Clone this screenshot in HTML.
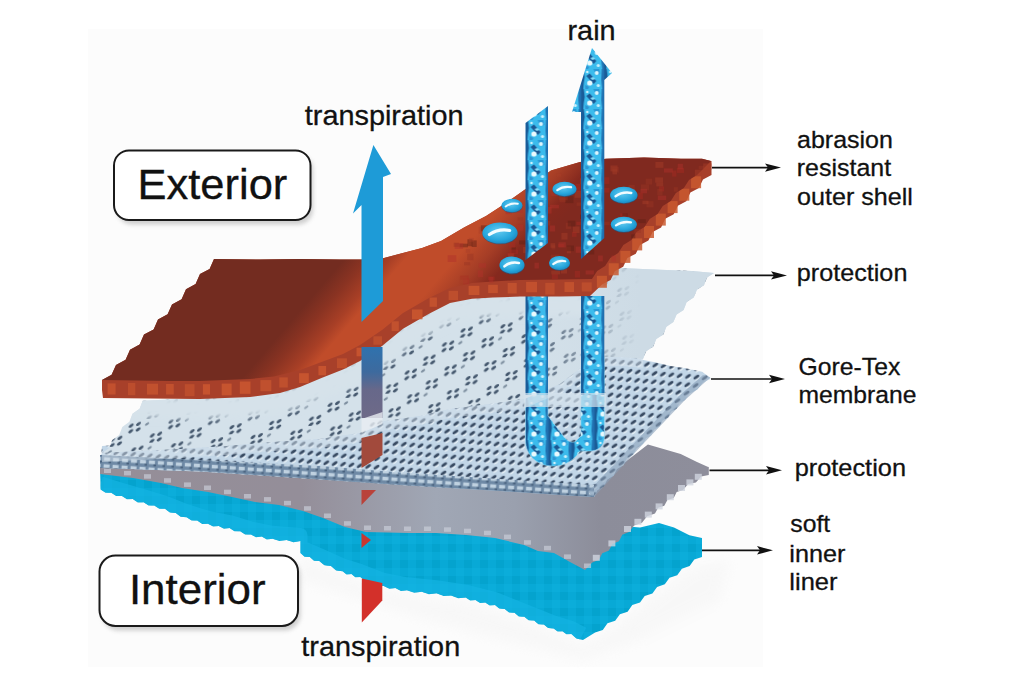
<!DOCTYPE html>
<html><head><meta charset="utf-8"><title>Gore-Tex fabric layers</title>
<style>
html,body{margin:0;padding:0;background:#fff;}
body{width:1024px;height:683px;overflow:hidden;}
svg{display:block;}
text{font-family:"Liberation Sans",sans-serif;fill:#111;stroke:#111;stroke-width:0.3px;}
</style></head><body>
<svg width="1024" height="683" viewBox="0 0 1024 683">
<defs>
  <filter id="fBlur2" x="-10%" y="-20%" width="120%" height="140%"><feGaussianBlur stdDeviation="2"/></filter>
  <filter id="fBlur3" x="-20%" y="-50%" width="140%" height="200%"><feGaussianBlur stdDeviation="3"/></filter>
  <filter id="fBlur" x="-20%" y="-20%" width="140%" height="140%"><feGaussianBlur stdDeviation="6"/></filter>
  <linearGradient id="gBrown" gradientUnits="userSpaceOnUse" x1="326.4" y1="279.9" x2="432.6" y2="371.1">
    <stop offset="0" stop-color="#732c20"/>
    <stop offset="0.12" stop-color="#8a3322"/>
    <stop offset="0.25" stop-color="#a83f26"/>
    <stop offset="0.33" stop-color="#c04c2a"/>
    <stop offset="0.60" stop-color="#c04c2a"/>
    <stop offset="0.76" stop-color="#a53d26"/>
    <stop offset="0.90" stop-color="#85291e"/>
    <stop offset="1" stop-color="#80291f"/>
  </linearGradient>
  <pattern id="pBrownTex" patternUnits="userSpaceOnUse" width="14" height="14">
    <rect x="1" y="2" width="6" height="5" fill="#5a1a10" opacity="0.07"/>
    <rect x="8" y="9" width="5" height="4" fill="#d06040" opacity="0.05"/>
  </pattern>
  <pattern id="pLight" patternUnits="userSpaceOnUse" width="40" height="24" patternTransform="rotate(-6)">
    <rect width="40" height="24" fill="#d4e1ea"/>
    <g fill="#45586e">
      <ellipse cx="6" cy="5" rx="3" ry="1.3" transform="rotate(-30 6 5)"/>
      <ellipse cx="13.5" cy="4" rx="3" ry="1.3" transform="rotate(-30 13.5 4)"/>
      <ellipse cx="5" cy="10.5" rx="3" ry="1.3" transform="rotate(-30 5 10.5)"/>
      <ellipse cx="12.5" cy="9.5" rx="3" ry="1.3" transform="rotate(-30 12.5 9.5)"/>
      <ellipse cx="26" cy="17" rx="3" ry="1.3" transform="rotate(-30 26 17)"/>
      <ellipse cx="33.5" cy="16" rx="3" ry="1.3" transform="rotate(-30 33.5 16)"/>
      <ellipse cx="25" cy="22.5" rx="3" ry="1.3" transform="rotate(-30 25 22.5)"/>
      <ellipse cx="32.5" cy="21.5" rx="3" ry="1.3" transform="rotate(-30 32.5 21.5)"/>
      <ellipse cx="22" cy="5" rx="2.6" ry="1.1" transform="rotate(-30 22 5)" opacity="0.6"/>
    </g>
  </pattern>
  <linearGradient id="gLightFade" gradientUnits="userSpaceOnUse" x1="520" y1="0" x2="640" y2="0">
    <stop offset="0" stop-color="#cddbe5" stop-opacity="0"/>
    <stop offset="1" stop-color="#cddbe5" stop-opacity="1"/>
  </linearGradient>
  <linearGradient id="gTrans" gradientUnits="userSpaceOnUse" x1="0" y1="347" x2="0" y2="418">
    <stop offset="0" stop-color="#2f72ae"/>
    <stop offset="0.35" stop-color="#3d6a9e"/>
    <stop offset="0.6" stop-color="#67688a"/>
    <stop offset="1" stop-color="#6e6a88"/>
  </linearGradient>
  <linearGradient id="gGrey" gradientUnits="userSpaceOnUse" x1="100" y1="0" x2="710" y2="0">
    <stop offset="0" stop-color="#958e98"/>
    <stop offset="0.33" stop-color="#948e99"/>
    <stop offset="0.55" stop-color="#a0a7b5"/>
    <stop offset="0.68" stop-color="#9aa0ae"/>
    <stop offset="0.82" stop-color="#8c8d9a"/>
    <stop offset="1" stop-color="#8e8e9b"/>
  </linearGradient>
  <pattern id="pMemb" patternUnits="userSpaceOnUse" width="8.4" height="8.4" patternTransform="rotate(5)">
    <rect width="8.4" height="8.4" fill="#c2d6e7"/>
    <ellipse cx="5.4" cy="6.0" rx="2.8" ry="0.9" transform="rotate(-40 5.4 6.0)" fill="#eef6fb"/>
    <ellipse cx="4.2" cy="4.2" rx="3.8" ry="2.0" transform="rotate(-40 4.2 4.2)" fill="#7990a9" opacity="0.5"/>
    <ellipse cx="4.2" cy="4.2" rx="3.1" ry="1.35" transform="rotate(-40 4.2 4.2)" fill="#384a61"/>
  </pattern>
  <pattern id="pMembBand" patternUnits="userSpaceOnUse" width="9" height="7" patternTransform="rotate(4)">
    <rect width="9" height="7" fill="#6e89a5"/>
    <rect x="0.8" y="0.8" width="6" height="3.6" fill="#bfd1e0"/>
    <rect x="5.5" y="4.6" width="2.6" height="1.8" fill="#465f7b"/>
  </pattern>
  <pattern id="pCyan" patternUnits="userSpaceOnUse" width="16" height="16">
    <rect width="16" height="16" fill="#08a9d6"/>
    <rect x="0" y="0" width="8" height="8" fill="#029ec8" opacity="0.6"/>
    <rect x="8" y="8" width="8" height="8" fill="#0eb2de" opacity="0.5"/>
  </pattern>
  <g id="rainTile">
    <rect width="23" height="20" fill="#3bbbec"/>
    <path d="M0,0 L2.5,0 L3.5,8 L2.5,14 L2,20 L0,20 Z" fill="#1a5c98"/>
    <path d="M20.5,0 L23,0 L23,20 L21,20 L20,11 Z" fill="#2070b0"/>
    <path d="M5,7 L8.5,4.5 L15,12 L12.5,15 Z" fill="#1b5893"/>
    <path d="M12,0 L18,0 L19,5 L15,6 Z" fill="#2a98d6"/>
    <path d="M4,16 L8,18 L7,20 L4,20 Z" fill="#2e96d4"/>
    <path d="M9,9 L12,8 L14,10 L11,11 Z" fill="#86dcf7"/>
    <circle cx="8.5" cy="14" r="2.6" fill="#e8f9fe"/>
    <circle cx="15.5" cy="4" r="2.0" fill="#dcf5fd"/>
    <circle cx="17" cy="16.5" r="1.6" fill="#cdf0fb"/>
    <circle cx="6" cy="3" r="1.3" fill="#cdf0fb"/>
  </g>
  <pattern id="pRainL" patternUnits="userSpaceOnUse" x="525.5" y="0" width="23" height="20"><use href="#rainTile"/></pattern>
  <pattern id="pRainR" patternUnits="userSpaceOnUse" x="581.3" y="9" width="23" height="20"><use href="#rainTile"/></pattern>
  <radialGradient id="gDrop" cx="0.45" cy="0.4" r="0.6">
    <stop offset="0" stop-color="#62caf0"/>
    <stop offset="0.7" stop-color="#27a7dd"/>
    <stop offset="1" stop-color="#1c8cc4"/>
  </radialGradient>
</defs>

<rect width="1024" height="683" fill="#fff"/>
<rect x="88" y="29" width="675" height="638" fill="#fcfcfc"/>
<path d="M300,556 L383,590 L465,601 L525,620 L583,645 L606,632 L690,568 L730,560 L720,600 L640,640 L583,660 L500,640 L400,612 L300,580 Z" fill="#eeeeee" opacity="0.3" filter="url(#fBlur)"/>
<polygon points="100.0,468.0 600.0,524.0 640.0,527.6 659.0,522.9 674.0,527.6 689.4,535.2 702.0,538.0 702.0,557.0 694.3,559.5 689.6,566.1 681.9,568.7 677.2,575.2 669.5,577.8 664.8,584.3 657.1,586.9 652.4,593.4 644.7,596.0 640.0,602.6 632.3,605.1 627.6,611.7 619.9,614.2 615.2,620.8 607.5,623.3 602.8,629.9 595.1,632.4 583.0,640.0 576.4,638.6 571.4,634.0 566.4,634.3 562.5,631.2 557.6,631.5 553.7,628.4 548.1,628.1 543.9,624.5 538.4,624.2 534.2,620.6 528.6,620.3 524.4,616.7 518.8,616.4 514.6,612.8 509.0,612.5 504.8,608.9 499.2,608.6 495.0,605.0 489.7,605.5 485.3,602.5 480.0,603.0 475.5,600.1 470.2,600.6 465.8,597.6 458.2,598.3 451.1,595.4 443.6,596.1 436.5,593.2 428.9,594.3 421.8,591.8 414.2,592.8 407.0,590.3 400.9,591.0 395.4,588.1 389.3,588.8 383.8,586.0 377.3,585.4 372.1,581.5 365.5,580.9 360.3,577.0 355.3,577.3 351.5,574.1 346.5,574.4 342.7,571.3 336.1,570.4 331.0,566.1 324.4,565.2 319.3,561.0 313.9,560.7 309.9,557.0 304.5,556.7 300.5,553.0 300.5,541.0 293.4,542.2 286.6,539.9 279.4,541.1 272.6,538.8 266.8,539.5 261.8,536.6 256.0,537.3 251.0,534.5 245.1,534.6 240.3,531.2 234.4,531.3 229.6,528.0 223.9,528.7 218.8,525.9 213.1,526.6 208.0,523.8 202.1,523.9 197.3,520.5 191.5,520.6 186.7,517.3 180.6,516.8 175.8,513.0 169.8,512.5 165.0,508.7 159.2,508.8 154.3,505.5 148.5,505.6 143.7,502.3 137.8,502.5 132.8,499.1 126.9,499.3 122.0,496.0 116.1,496.1 111.3,492.7 105.5,492.8 100.7,489.4" fill="url(#pCyan)"/>
<clipPath id="cCyan"><polygon points="100.0,468.0 600.0,524.0 640.0,527.6 659.0,522.9 674.0,527.6 689.4,535.2 702.0,538.0 702.0,557.0 694.3,559.5 689.6,566.1 681.9,568.7 677.2,575.2 669.5,577.8 664.8,584.3 657.1,586.9 652.4,593.4 644.7,596.0 640.0,602.6 632.3,605.1 627.6,611.7 619.9,614.2 615.2,620.8 607.5,623.3 602.8,629.9 595.1,632.4 583.0,640.0 576.4,638.6 571.4,634.0 566.4,634.3 562.5,631.2 557.6,631.5 553.7,628.4 548.1,628.1 543.9,624.5 538.4,624.2 534.2,620.6 528.6,620.3 524.4,616.7 518.8,616.4 514.6,612.8 509.0,612.5 504.8,608.9 499.2,608.6 495.0,605.0 489.7,605.5 485.3,602.5 480.0,603.0 475.5,600.1 470.2,600.6 465.8,597.6 458.2,598.3 451.1,595.4 443.6,596.1 436.5,593.2 428.9,594.3 421.8,591.8 414.2,592.8 407.0,590.3 400.9,591.0 395.4,588.1 389.3,588.8 383.8,586.0 377.3,585.4 372.1,581.5 365.5,580.9 360.3,577.0 355.3,577.3 351.5,574.1 346.5,574.4 342.7,571.3 336.1,570.4 331.0,566.1 324.4,565.2 319.3,561.0 313.9,560.7 309.9,557.0 304.5,556.7 300.5,553.0 300.5,541.0 293.4,542.2 286.6,539.9 279.4,541.1 272.6,538.8 266.8,539.5 261.8,536.6 256.0,537.3 251.0,534.5 245.1,534.6 240.3,531.2 234.4,531.3 229.6,528.0 223.9,528.7 218.8,525.9 213.1,526.6 208.0,523.8 202.1,523.9 197.3,520.5 191.5,520.6 186.7,517.3 180.6,516.8 175.8,513.0 169.8,512.5 165.0,508.7 159.2,508.8 154.3,505.5 148.5,505.6 143.7,502.3 137.8,502.5 132.8,499.1 126.9,499.3 122.0,496.0 116.1,496.1 111.3,492.7 105.5,492.8 100.7,489.4"/></clipPath>
<g clip-path="url(#cCyan)"><path d="M583.0,634.0 L571.4,628.0 L553.7,622.4 L524.4,610.7 L495.0,599.0 L465.8,591.6 L436.5,587.2 L407.0,584.3 L383.8,580.0 L360.3,571.0 L342.7,565.3 L319.3,555.0 L300.5,547.0 L300.5,535.0 L272.6,532.8 L251.0,528.5 L229.6,522.0 L208.0,517.8 L186.7,511.3 L165.0,502.7 L143.7,496.3 L122.0,490.0 L100.7,483.4" stroke="#14b3e3" stroke-width="14" fill="none" opacity="0.7" stroke-linejoin="round"/></g>
<polygon points="100.0,462.0 200.0,465.0 310.0,470.5 400.0,477.0 500.0,484.0 589.0,491.0 620.0,466.0 647.9,444.6 680.7,454.0 697.0,462.0 707.6,466.8 708.8,467.0 708.8,475.0 701.1,476.6 695.9,482.5 688.2,484.1 683.0,490.0 676.7,492.0 673.7,497.9 667.4,499.9 664.3,505.7 658.1,507.8 655.0,513.6 647.1,516.2 642.0,522.8 634.1,525.4 629.0,532.0 622.3,534.8 619.0,541.2 612.3,544.0 609.0,550.5 602.3,553.3 599.0,559.8 592.3,562.5 585.0,570.0 570.0,562.0 554.0,553.0 538.0,551.0 524.0,545.0 495.0,538.0 486.0,537.0 466.0,535.0 436.0,533.0 409.0,533.0 366.0,532.0 345.0,527.0 323.0,518.0 303.0,511.0 279.0,505.0 255.0,502.0 232.0,497.0 208.0,492.0 182.0,488.0 161.0,483.0 133.0,478.0 100.0,474.0" fill="url(#gGrey)"/>
<rect x="104" y="468.5" width="7" height="4.5" fill="#cbd0da" opacity="0.65"/>
<rect x="124" y="470.9" width="7" height="4.5" fill="#cbd0da" opacity="0.65"/>
<rect x="144" y="474.2" width="7" height="4.5" fill="#cbd0da" opacity="0.65"/>
<rect x="164" y="478.2" width="7" height="4.5" fill="#cbd0da" opacity="0.65"/>
<rect x="184" y="482.4" width="7" height="4.5" fill="#cbd0da" opacity="0.65"/>
<rect x="204" y="485.5" width="7" height="4.5" fill="#cbd0da" opacity="0.65"/>
<rect x="224" y="489.7" width="7" height="4.5" fill="#cbd0da" opacity="0.65"/>
<rect x="244" y="494.0" width="7" height="4.5" fill="#cbd0da" opacity="0.65"/>
<rect x="264" y="497.1" width="7" height="4.5" fill="#cbd0da" opacity="0.65"/>
<rect x="284" y="500.8" width="7" height="4.5" fill="#cbd0da" opacity="0.65"/>
<rect x="304" y="506.2" width="7" height="4.5" fill="#cbd0da" opacity="0.65"/>
<rect x="324" y="513.5" width="7" height="4.5" fill="#cbd0da" opacity="0.65"/>
<rect x="344" y="521.2" width="7" height="4.5" fill="#cbd0da" opacity="0.65"/>
<rect x="364" y="525.5" width="7" height="4.5" fill="#cbd0da" opacity="0.65"/>
<rect x="384" y="526.0" width="7" height="4.5" fill="#cbd0da" opacity="0.65"/>
<rect x="404" y="526.5" width="7" height="4.5" fill="#cbd0da" opacity="0.65"/>
<rect x="424" y="526.5" width="7" height="4.5" fill="#cbd0da" opacity="0.65"/>
<rect x="444" y="527.3" width="7" height="4.5" fill="#cbd0da" opacity="0.65"/>
<rect x="464" y="528.7" width="7" height="4.5" fill="#cbd0da" opacity="0.65"/>
<rect x="484" y="530.7" width="7" height="4.5" fill="#cbd0da" opacity="0.65"/>
<rect x="504" y="534.6" width="7" height="4.5" fill="#cbd0da" opacity="0.65"/>
<rect x="524" y="540.2" width="7" height="4.5" fill="#cbd0da" opacity="0.65"/>
<rect x="544" y="545.8" width="7" height="4.5" fill="#cbd0da" opacity="0.65"/>
<rect x="564" y="554.4" width="7" height="4.5" fill="#cbd0da" opacity="0.65"/>
<rect x="584" y="563.5" width="7" height="4.5" fill="#cbd0da" opacity="0.65"/>
<rect x="694.8" y="473.8" width="7" height="6" fill="#cfd5de" opacity="0.8"/>
<rect x="686.4" y="479.4" width="7" height="6" fill="#cfd5de" opacity="0.8"/>
<rect x="678.0" y="485.0" width="7" height="6" fill="#cfd5de" opacity="0.8"/>
<rect x="666.8" y="494.2" width="7" height="6" fill="#cfd5de" opacity="0.8"/>
<rect x="655.6" y="503.4" width="7" height="6" fill="#cfd5de" opacity="0.8"/>
<rect x="644.8" y="511.6" width="7" height="6" fill="#cfd5de" opacity="0.8"/>
<rect x="634.4" y="518.8" width="7" height="6" fill="#cfd5de" opacity="0.8"/>
<rect x="624.0" y="526.0" width="7" height="6" fill="#cfd5de" opacity="0.8"/>
<rect x="608.4" y="540.4" width="7" height="6" fill="#cfd5de" opacity="0.8"/>
<rect x="592.8" y="554.8" width="7" height="6" fill="#cfd5de" opacity="0.8"/>
<polygon points="102.0,446.0 227.0,438.0 320.0,430.0 385.0,411.0 450.0,398.0 525.0,388.0 560.0,372.0 601.0,350.0 626.0,354.0 643.4,360.0 655.0,362.3 670.4,365.9 685.6,368.2 702.0,371.7 710.2,377.6 710.2,379.0 702.6,382.7 697.6,389.5 690.0,393.2 685.0,400.0 679.4,403.0 676.6,408.8 671.0,411.8 668.2,417.6 662.6,420.6 659.8,426.4 654.2,429.4 651.4,435.2 645.8,438.2 643.0,444.0 636.6,447.9 633.2,454.6 626.8,458.5 623.4,465.2 617.0,469.1 613.6,475.8 607.2,479.7 603.8,486.4 597.4,490.3 594.0,497.0 560.0,495.0 500.0,491.0 450.0,488.0 400.0,485.0 320.0,479.5 200.0,471.5 100.0,468.0" fill="url(#pMemb)"/>
<polygon points="594.0,485.0 500.0,479.0 400.0,472.5 320.0,466.0 200.0,460.0 100.0,455.0 100.0,468.0 200.0,471.5 320.0,479.5 400.0,485.0 450.0,488.0 500.0,491.0 560.0,495.0 594.0,497.0" fill="url(#pMembBand)"/>
<polygon points="710.2,377.6 685.0,400.0 643.0,444.0 594.0,497.0 588.0,492.0 637.0,440.0 679.0,396.0 703.0,375.0" fill="#8aa2ba" opacity="0.6"/>
<path d="M525.5,296 L548,296 L548,416 L564,437 C567,441 572,444 576,441 L581,436 L581,296 L604.3,296 L604.3,437 C604.3,446 598,451 590,451 L580,451 C575,459 566,466 553,466 C537,466 525.5,455 525.5,440 Z" fill="url(#pRainL)"/>
<path d="M525.5,296 L548,296 L548,416 L564,437 C567,441 572,444 576,441 L581,436 L581,296 L604.3,296 L604.3,437 C604.3,446 598,451 590,451 L580,451 C575,459 566,466 553,466 C537,466 525.5,455 525.5,440 Z" fill="none" stroke="#8fd8f4" stroke-width="1" opacity="0.6"/>
<polygon points="142.7,400.7 200.0,398.0 300.0,385.0 360.0,355.0 400.0,325.0 450.0,300.0 520.0,290.0 590.0,285.0 620.0,268.0 660.0,269.8 692.0,270.9 714.0,273.0 707.0,277.6 703.9,285.3 696.9,289.8 693.7,297.6 686.7,302.1 683.6,309.9 676.6,314.4 673.4,322.1 666.4,326.7 663.3,334.4 656.3,339.0 653.1,346.7 646.1,351.3 643.0,359.0 622.0,357.0 601.0,357.0 581.0,368.0 560.0,384.0 525.0,399.0 490.0,404.0 450.0,409.0 420.0,416.0 385.0,421.0 360.0,433.0 320.0,439.0 274.0,442.0 227.0,446.0 180.0,449.0 140.0,451.0 102.0,453.0 109.1,448.0 112.2,439.9 119.2,434.9 122.3,426.9 129.4,421.8 132.5,413.8 139.6,408.8" fill="url(#pLight)"/>
<polygon points="142.7,400.7 200.0,398.0 300.0,385.0 360.0,355.0 400.0,325.0 450.0,300.0 520.0,290.0 590.0,285.0 620.0,268.0 660.0,269.8 692.0,270.9 714.0,273.0 707.0,277.6 703.9,285.3 696.9,289.8 693.7,297.6 686.7,302.1 683.6,309.9 676.6,314.4 673.4,322.1 666.4,326.7 663.3,334.4 656.3,339.0 653.1,346.7 646.1,351.3 643.0,359.0 622.0,357.0 601.0,357.0 581.0,368.0 560.0,384.0 525.0,399.0 490.0,404.0 450.0,409.0 420.0,416.0 385.0,421.0 360.0,433.0 320.0,439.0 274.0,442.0 227.0,446.0 180.0,449.0 140.0,451.0 102.0,453.0 109.1,448.0 112.2,439.9 119.2,434.9 122.3,426.9 129.4,421.8 132.5,413.8 139.6,408.8" fill="url(#gLightFade)"/>
<polygon points="643.0,359.0 622.0,357.0 601.0,357.0 581.0,368.0 560.0,384.0 525.0,399.0 490.0,404.0 450.0,409.0 420.0,416.0 385.0,421.0 360.0,433.0 320.0,439.0 274.0,442.0 227.0,446.0 180.0,449.0 140.0,451.0 102.0,453.0 102.0,462.0 140.0,460.0 180.0,458.0 227.0,455.0 274.0,451.0 320.0,448.0 360.0,442.0 385.0,430.0 420.0,425.0 450.0,418.0 490.0,413.0 525.0,408.0 560.0,393.0 581.0,377.0 601.0,366.0 622.0,366.0 643.0,368.0" fill="#d5e2eb" opacity="0.5"/>
<clipPath id="cLight"><polygon points="142.7,400.7 200.0,398.0 300.0,385.0 360.0,355.0 400.0,325.0 450.0,300.0 520.0,290.0 590.0,285.0 620.0,268.0 660.0,269.8 692.0,270.9 714.0,273.0 707.0,277.6 703.9,285.3 696.9,289.8 693.7,297.6 686.7,302.1 683.6,309.9 676.6,314.4 673.4,322.1 666.4,326.7 663.3,334.4 656.3,339.0 653.1,346.7 646.1,351.3 643.0,359.0 622.0,357.0 601.0,357.0 581.0,368.0 560.0,384.0 525.0,399.0 490.0,404.0 450.0,409.0 420.0,416.0 385.0,421.0 360.0,433.0 320.0,439.0 274.0,442.0 227.0,446.0 180.0,449.0 140.0,451.0 102.0,453.0 109.1,448.0 112.2,439.9 119.2,434.9 122.3,426.9 129.4,421.8 132.5,413.8 139.6,408.8"/></clipPath>
<g clip-path="url(#cLight)"><path d="M590,305 L560,305.5 L520,305.5 L493,306.6 L472,307.7 L450,312 L429,322.7 L403,337.7 L382,355 L360,370 L343,378.6 L321.5,387 L300,396 L280,402 L250,406 L200,408 L150,407.5 L103,407" stroke="#d6e2ea" stroke-width="22" fill="none" stroke-linejoin="round" filter="url(#fBlur3)"/></g>
<path d="M525.5,296 L548,296 L548,395 L525.5,395 Z" fill="url(#pRainL)"/>
<path d="M581,296 L604.3,296 L604.3,395 L581,395 Z" fill="url(#pRainR)"/>
<rect x="524" y="393" width="82" height="14" fill="#d6e3ec" opacity="0.7"/>
<polygon points="214.0,259.0 260.0,259.5 300.0,259.0 340.0,259.5 362.0,259.5 384.0,258.0 399.0,254.0 422.0,248.0 441.0,241.0 464.0,227.5 486.0,216.0 506.0,203.0 525.0,189.5 551.0,170.5 580.0,162.0 606.0,158.7 644.0,157.6 681.0,158.7 702.0,158.7 711.0,161.0 711.5,161.0 711.5,175.0 703.0,179.5 698.9,188.1 690.4,192.6 686.3,201.2 677.8,205.7 673.7,214.3 665.2,218.8 661.1,227.4 652.6,231.9 648.4,240.6 640.0,245.0 635.8,253.7 627.4,258.1 623.2,266.8 614.8,271.3 610.6,279.9 602.1,284.4 590.0,296.0 560.0,296.5 520.0,296.5 493.0,297.6 472.0,298.7 450.0,303.0 429.0,313.7 403.0,328.7 382.0,346.0 360.0,361.0 343.0,369.6 321.5,378.0 300.0,387.0 280.0,393.0 250.0,397.0 200.0,399.0 150.0,398.5 103.0,398.0 102.0,390.0 102.0,380.0 111.6,374.8 116.0,364.9 125.6,359.7 130.0,349.8 139.6,344.6 144.0,334.6 153.6,329.4 158.0,319.5 167.6,314.3 172.0,304.4 181.6,299.2 186.0,289.2 195.6,284.1 200.0,274.1 209.6,268.9" fill="#a8402a"/>
<rect x="107.6" y="383.4" width="8.0" height="11.1" fill="#cc5830" opacity="0.71"/>
<rect x="128.0" y="383.0" width="7.3" height="12.2" fill="#cc5830" opacity="0.55"/>
<rect x="147.0" y="383.7" width="11.0" height="10.9" fill="#cc5830" opacity="0.69"/>
<rect x="166.1" y="384.0" width="7.6" height="10.5" fill="#cc5830" opacity="0.74"/>
<rect x="184.8" y="384.2" width="9.7" height="12.0" fill="#cc5830" opacity="0.57"/>
<rect x="202.9" y="384.2" width="7.1" height="10.4" fill="#cc5830" opacity="0.81"/>
<rect x="221.7" y="383.6" width="9.9" height="11.7" fill="#cc5830" opacity="0.83"/>
<rect x="239.8" y="381.5" width="10.7" height="12.3" fill="#cc5830" opacity="0.81"/>
<rect x="260.4" y="380.1" width="10.9" height="11.1" fill="#cc5830" opacity="0.68"/>
<rect x="279.3" y="377.4" width="8.5" height="10.1" fill="#cc5830" opacity="0.66"/>
<rect x="299.1" y="373.2" width="9.7" height="9.9" fill="#cc5830" opacity="0.83"/>
<rect x="318.4" y="366.0" width="7.7" height="9.3" fill="#cc5830" opacity="0.81"/>
<rect x="337.0" y="358.3" width="9.9" height="9.8" fill="#cc5830" opacity="0.61"/>
<rect x="356.5" y="347.7" width="7.3" height="8.6" fill="#cc5830" opacity="0.81"/>
<rect x="373.4" y="336.3" width="8.6" height="8.4" fill="#cc5830" opacity="0.60"/>
<rect x="391.6" y="321.3" width="7.2" height="9.8" fill="#cc5830" opacity="0.73"/>
<rect x="412.0" y="309.5" width="10.5" height="9.8" fill="#cc5830" opacity="0.84"/>
<rect x="429.6" y="297.5" width="7.3" height="9.3" fill="#cc5830" opacity="0.73"/>
<rect x="448.6" y="290.8" width="9.4" height="9.2" fill="#cc5830" opacity="0.60"/>
<rect x="468.6" y="285.8" width="10.8" height="9.2" fill="#cc5830" opacity="0.82"/>
<rect x="488.2" y="284.8" width="9.6" height="8.3" fill="#cc5830" opacity="0.73"/>
<rect x="507.7" y="283.0" width="9.0" height="10.5" fill="#cc5830" opacity="0.68"/>
<rect x="526.1" y="281.9" width="10.9" height="10.4" fill="#cc5830" opacity="0.71"/>
<rect x="545.3" y="282.9" width="9.3" height="11.7" fill="#cc5830" opacity="0.56"/>
<rect x="564.5" y="282.1" width="9.5" height="9.9" fill="#cc5830" opacity="0.69"/>
<rect x="581.7" y="282.4" width="10.0" height="9.1" fill="#cc5830" opacity="0.56"/>
<rect x="691.1" y="176.2" width="10" height="12" fill="#c9592f" opacity="0.85"/>
<rect x="679.3" y="188.7" width="10" height="12" fill="#c9592f" opacity="0.85"/>
<rect x="667.6" y="201.1" width="10" height="12" fill="#c9592f" opacity="0.85"/>
<rect x="655.8" y="213.6" width="10" height="12" fill="#c9592f" opacity="0.85"/>
<rect x="644.0" y="226.0" width="10" height="12" fill="#c9592f" opacity="0.85"/>
<rect x="632.2" y="238.4" width="10" height="12" fill="#c9592f" opacity="0.85"/>
<rect x="620.4" y="250.9" width="10" height="12" fill="#c9592f" opacity="0.85"/>
<rect x="608.7" y="263.3" width="10" height="12" fill="#c9592f" opacity="0.85"/>
<rect x="596.9" y="275.8" width="10" height="12" fill="#c9592f" opacity="0.85"/>
<polygon points="214.0,259.0 260.0,259.5 300.0,259.0 340.0,259.5 362.0,259.5 384.0,258.0 399.0,254.0 422.0,248.0 441.0,241.0 464.0,227.5 486.0,216.0 506.0,203.0 525.0,189.5 551.0,170.5 580.0,162.0 606.0,158.7 644.0,157.6 681.0,158.7 702.0,158.7 711.0,161.0 711.0,161.0 697.0,175.0 689.0,180.1 683.9,188.0 675.9,193.1 670.8,201.0 662.8,206.1 657.6,214.0 649.7,219.1 644.5,227.0 636.5,232.1 631.4,240.0 623.4,245.1 618.2,253.0 610.3,258.1 605.1,266.0 597.2,271.1 592.0,279.0 560.0,279.5 520.0,280.0 493.0,281.5 472.0,283.0 450.0,288.0 429.0,298.0 403.0,313.0 382.0,330.0 360.0,345.0 343.0,354.0 321.5,362.0 300.0,370.0 274.0,376.5 250.0,379.0 200.0,381.0 169.0,381.0 102.0,380.0 102.0,380.0 111.6,374.8 116.0,364.9 125.6,359.7 130.0,349.8 139.6,344.6 144.0,334.6 153.6,329.4 158.0,319.5 167.6,314.3 172.0,304.4 181.6,299.2 186.0,289.2 195.6,284.1 200.0,274.1 209.6,268.9" fill="url(#gBrown)"/>
<rect x="612.5" y="169.1" width="4.5" height="5.3" fill="#a83d28" opacity="0.45"/>
<rect x="503.8" y="228.9" width="8.1" height="3.5" fill="#5e1e14" opacity="0.45"/>
<rect x="499.2" y="238.4" width="6.9" height="4.6" fill="#5e1e14" opacity="0.45"/>
<rect x="698.7" y="165.8" width="5.4" height="3.6" fill="#9a3524" opacity="0.45"/>
<rect x="656.3" y="182.6" width="6.9" height="3.8" fill="#a83d28" opacity="0.45"/>
<rect x="465.8" y="249.0" width="4.3" height="3.8" fill="#a83d28" opacity="0.45"/>
<rect x="620.3" y="213.4" width="6.3" height="6.7" fill="#a82a22" opacity="0.45"/>
<rect x="535.8" y="191.1" width="7.5" height="4.0" fill="#9a3524" opacity="0.45"/>
<rect x="592.2" y="225.6" width="7.6" height="4.2" fill="#a82a22" opacity="0.45"/>
<rect x="550.8" y="254.6" width="8.7" height="4.7" fill="#9a3524" opacity="0.45"/>
<rect x="694.9" y="169.7" width="6.9" height="6.5" fill="#a83d28" opacity="0.45"/>
<rect x="523.1" y="246.9" width="6.5" height="6.2" fill="#a83d28" opacity="0.45"/>
<rect x="511.5" y="247.1" width="4.3" height="5.8" fill="#5e1e14" opacity="0.45"/>
<rect x="657.8" y="195.6" width="8.4" height="4.4" fill="#b0302a" opacity="0.45"/>
<rect x="601.9" y="221.7" width="7.8" height="3.5" fill="#9a3524" opacity="0.45"/>
<rect x="505.6" y="208.9" width="4.4" height="4.8" fill="#b0302a" opacity="0.45"/>
<rect x="585.6" y="270.4" width="8.3" height="4.1" fill="#b0302a" opacity="0.45"/>
<rect x="550.1" y="204.8" width="8.8" height="3.6" fill="#b0302a" opacity="0.45"/>
<rect x="501.8" y="220.6" width="4.9" height="4.1" fill="#a83d28" opacity="0.45"/>
<rect x="478.6" y="226.8" width="6.8" height="6.8" fill="#a83d28" opacity="0.45"/>
<rect x="623.0" y="224.4" width="7.3" height="6.0" fill="#a83d28" opacity="0.45"/>
<rect x="561.0" y="268.9" width="6.0" height="4.6" fill="#a83d28" opacity="0.45"/>
<rect x="467.4" y="239.3" width="5.0" height="6.9" fill="#5e1e14" opacity="0.45"/>
<rect x="556.8" y="173.7" width="4.3" height="3.0" fill="#a83d28" opacity="0.45"/>
<rect x="532.1" y="205.5" width="4.6" height="5.0" fill="#5e1e14" opacity="0.45"/>
<rect x="566.8" y="246.5" width="4.1" height="6.8" fill="#a83d28" opacity="0.45"/>
<rect x="580.0" y="178.3" width="8.6" height="6.0" fill="#a83d28" opacity="0.45"/>
<rect x="519.0" y="240.4" width="7.5" height="4.0" fill="#5e1e14" opacity="0.45"/>
<rect x="646.4" y="201.2" width="7.1" height="6.2" fill="#9a3524" opacity="0.45"/>
<rect x="641.0" y="184.4" width="8.1" height="6.0" fill="#9a3524" opacity="0.45"/>
<rect x="500.1" y="224.7" width="7.7" height="7.0" fill="#a82a22" opacity="0.45"/>
<rect x="491.3" y="235.6" width="6.2" height="6.7" fill="#a82a22" opacity="0.45"/>
<rect x="536.6" y="187.6" width="6.4" height="4.4" fill="#9a3524" opacity="0.45"/>
<rect x="628.5" y="184.9" width="6.2" height="5.5" fill="#9a3524" opacity="0.45"/>
<rect x="463.0" y="278.3" width="6.3" height="6.0" fill="#b0302a" opacity="0.45"/>
<rect x="703.2" y="163.4" width="8.5" height="6.2" fill="#a83d28" opacity="0.45"/>
<rect x="478.7" y="263.3" width="7.3" height="4.4" fill="#b0302a" opacity="0.45"/>
<rect x="585.4" y="176.4" width="8.0" height="5.9" fill="#5e1e14" opacity="0.45"/>
<rect x="467.2" y="253.7" width="6.2" height="6.5" fill="#9a3524" opacity="0.45"/>
<rect x="658.9" y="186.4" width="5.1" height="5.0" fill="#a82a22" opacity="0.45"/>
<rect x="642.4" y="200.7" width="6.1" height="3.5" fill="#a83d28" opacity="0.45"/>
<rect x="561.4" y="232.9" width="6.1" height="6.7" fill="#a83d28" opacity="0.45"/>
<rect x="572.9" y="226.5" width="6.6" height="6.5" fill="#a83d28" opacity="0.45"/>
<rect x="645.7" y="178.7" width="6.4" height="5.9" fill="#9a3524" opacity="0.45"/>
<rect x="587.5" y="200.7" width="6.7" height="4.9" fill="#a83d28" opacity="0.45"/>
<rect x="676.9" y="167.9" width="7.1" height="5.0" fill="#a82a22" opacity="0.45"/>
<rect x="575.7" y="246.6" width="6.5" height="6.2" fill="#b0302a" opacity="0.45"/>
<rect x="574.6" y="191.0" width="8.4" height="6.8" fill="#a83d28" opacity="0.45"/>
<rect x="508.8" y="229.9" width="8.2" height="3.5" fill="#9a3524" opacity="0.45"/>
<rect x="459.4" y="243.7" width="8.5" height="3.6" fill="#5e1e14" opacity="0.45"/>
<rect x="477.9" y="270.4" width="5.1" height="6.8" fill="#b0302a" opacity="0.45"/>
<rect x="545.5" y="220.9" width="4.8" height="4.7" fill="#9a3524" opacity="0.45"/>
<rect x="576.6" y="202.4" width="5.8" height="3.4" fill="#9a3524" opacity="0.45"/>
<rect x="537.0" y="202.2" width="6.2" height="3.1" fill="#b0302a" opacity="0.45"/>
<rect x="527.8" y="238.0" width="8.8" height="3.5" fill="#a83d28" opacity="0.45"/>
<rect x="672.2" y="170.5" width="4.2" height="6.1" fill="#a82a22" opacity="0.45"/>
<rect x="551.9" y="273.9" width="6.0" height="5.1" fill="#a82a22" opacity="0.45"/>
<rect x="576.4" y="221.8" width="4.4" height="3.2" fill="#a82a22" opacity="0.45"/>
<rect x="622.4" y="213.2" width="5.3" height="3.1" fill="#5e1e14" opacity="0.45"/>
<rect x="601.2" y="187.8" width="8.3" height="4.8" fill="#a82a22" opacity="0.45"/>
<rect x="529.9" y="229.1" width="7.1" height="3.2" fill="#a82a22" opacity="0.45"/>
<rect x="488.0" y="276.5" width="6.7" height="3.8" fill="#a82a22" opacity="0.45"/>
<rect x="558.1" y="244.0" width="5.7" height="3.1" fill="#a82a22" opacity="0.45"/>
<rect x="634.3" y="228.9" width="6.6" height="4.0" fill="#9a3524" opacity="0.45"/>
<rect x="558.5" y="242.3" width="7.3" height="5.2" fill="#b0302a" opacity="0.45"/>
<rect x="454.7" y="243.2" width="8.4" height="5.7" fill="#b0302a" opacity="0.45"/>
<rect x="517.7" y="217.4" width="5.3" height="3.0" fill="#9a3524" opacity="0.45"/>
<rect x="536.5" y="201.1" width="5.6" height="3.1" fill="#a83d28" opacity="0.45"/>
<rect x="673.8" y="187.2" width="4.0" height="4.5" fill="#9a3524" opacity="0.45"/>
<rect x="565.8" y="222.8" width="5.2" height="6.1" fill="#9a3524" opacity="0.45"/>
<rect x="464.1" y="262.1" width="6.0" height="3.2" fill="#9a3524" opacity="0.45"/>
<rect x="501.7" y="233.2" width="8.3" height="3.6" fill="#a83d28" opacity="0.45"/>
<rect x="598.1" y="255.5" width="4.7" height="5.9" fill="#b0302a" opacity="0.45"/>
<rect x="610.5" y="165.5" width="7.1" height="5.9" fill="#a83d28" opacity="0.45"/>
<rect x="655.2" y="177.4" width="7.8" height="5.3" fill="#a83d28" opacity="0.45"/>
<rect x="655.4" y="162.0" width="8.0" height="5.8" fill="#a83d28" opacity="0.45"/>
<rect x="539.8" y="216.4" width="7.1" height="5.5" fill="#5e1e14" opacity="0.45"/>
<rect x="620.4" y="221.2" width="6.3" height="3.3" fill="#5e1e14" opacity="0.45"/>
<rect x="637.6" y="219.2" width="8.2" height="3.9" fill="#5e1e14" opacity="0.45"/>
<rect x="640.5" y="188.8" width="6.5" height="4.5" fill="#b0302a" opacity="0.45"/>
<rect x="566.9" y="245.5" width="7.1" height="5.6" fill="#5e1e14" opacity="0.45"/>
<rect x="507.3" y="252.9" width="7.1" height="3.5" fill="#a82a22" opacity="0.45"/>
<rect x="567.8" y="220.7" width="7.5" height="5.7" fill="#5e1e14" opacity="0.45"/>
<rect x="517.1" y="224.6" width="6.3" height="6.1" fill="#b0302a" opacity="0.45"/>
<rect x="565.3" y="196.2" width="8.1" height="6.9" fill="#5e1e14" opacity="0.45"/>
<rect x="559.1" y="193.6" width="8.6" height="6.7" fill="#9a3524" opacity="0.45"/>
<rect x="638.1" y="192.7" width="4.7" height="6.3" fill="#a82a22" opacity="0.45"/>
<rect x="574.8" y="270.9" width="5.2" height="6.6" fill="#a82a22" opacity="0.45"/>
<rect x="559.5" y="197.7" width="6.1" height="4.5" fill="#9a3524" opacity="0.45"/>
<rect x="526.0" y="202.3" width="4.6" height="6.7" fill="#b0302a" opacity="0.45"/>
<rect x="516.8" y="206.5" width="6.0" height="6.5" fill="#b0302a" opacity="0.45"/>
<rect x="460.2" y="275.7" width="8.3" height="4.1" fill="#a82a22" opacity="0.45"/>
<rect x="453.7" y="242.7" width="5.2" height="4.1" fill="#9a3524" opacity="0.45"/>
<rect x="575.4" y="183.7" width="7.9" height="4.7" fill="#a82a22" opacity="0.45"/>
<rect x="447.7" y="255.2" width="8.6" height="6.8" fill="#b0302a" opacity="0.45"/>
<rect x="585.5" y="249.9" width="8.7" height="4.6" fill="#5e1e14" opacity="0.45"/>
<rect x="603.0" y="177.3" width="6.4" height="6.6" fill="#a82a22" opacity="0.45"/>
<rect x="585.8" y="181.3" width="5.7" height="4.2" fill="#b0302a" opacity="0.45"/>
<rect x="508.9" y="242.0" width="6.4" height="5.7" fill="#a82a22" opacity="0.45"/>
<rect x="471.7" y="240.4" width="5.0" height="6.6" fill="#5e1e14" opacity="0.45"/>
<rect x="571.7" y="187.5" width="9.0" height="4.8" fill="#a82a22" opacity="0.45"/>
<rect x="508.5" y="231.2" width="7.7" height="4.7" fill="#5e1e14" opacity="0.45"/>
<rect x="549.7" y="225.5" width="5.4" height="6.0" fill="#b0302a" opacity="0.45"/>
<rect x="572.0" y="231.8" width="4.6" height="5.0" fill="#a82a22" opacity="0.45"/>
<rect x="505.8" y="210.0" width="6.2" height="4.2" fill="#b0302a" opacity="0.45"/>
<rect x="459.4" y="276.3" width="8.3" height="6.9" fill="#a83d28" opacity="0.45"/>
<rect x="480.9" y="225.3" width="8.7" height="5.9" fill="#5e1e14" opacity="0.45"/>
<rect x="611.5" y="255.6" width="4.4" height="6.1" fill="#b0302a" opacity="0.45"/>
<rect x="590.9" y="164.7" width="8.8" height="5.5" fill="#a82a22" opacity="0.45"/>
<rect x="580.0" y="214.7" width="4.5" height="4.2" fill="#5e1e14" opacity="0.45"/>
<rect x="509.1" y="258.8" width="4.1" height="4.2" fill="#5e1e14" opacity="0.45"/>
<rect x="566.0" y="189.3" width="4.1" height="4.6" fill="#9a3524" opacity="0.45"/>
<rect x="612.2" y="166.9" width="6.5" height="5.7" fill="#9a3524" opacity="0.45"/>
<rect x="551.3" y="192.2" width="8.6" height="3.9" fill="#b0302a" opacity="0.45"/>
<rect x="551.4" y="245.3" width="4.0" height="4.2" fill="#9a3524" opacity="0.45"/>
<rect x="664.0" y="168.4" width="8.8" height="4.2" fill="#b0302a" opacity="0.45"/>
<rect x="657.3" y="188.9" width="5.3" height="6.6" fill="#9a3524" opacity="0.45"/>
<rect x="468.9" y="237.9" width="4.9" height="3.9" fill="#a83d28" opacity="0.45"/>
<rect x="550.5" y="243.2" width="4.7" height="4.6" fill="#a83d28" opacity="0.45"/>
<rect x="489.2" y="277.0" width="4.2" height="5.7" fill="#b0302a" opacity="0.45"/>
<rect x="540.3" y="206.7" width="6.2" height="3.4" fill="#a82a22" opacity="0.45"/>
<rect x="551.3" y="270.6" width="8.8" height="3.8" fill="#a83d28" opacity="0.45"/>
<rect x="534.5" y="262.7" width="4.4" height="5.8" fill="#b0302a" opacity="0.45"/>
<rect x="491.9" y="227.7" width="5.0" height="4.5" fill="#b0302a" opacity="0.45"/>
<rect x="677.7" y="163.8" width="5.2" height="5.5" fill="#b0302a" opacity="0.45"/>
<rect x="547.3" y="206.9" width="4.3" height="6.7" fill="#b0302a" opacity="0.45"/>
<rect x="508.1" y="253.4" width="5.7" height="4.1" fill="#a83d28" opacity="0.45"/>
<rect x="509.5" y="249.6" width="8.6" height="4.2" fill="#a82a22" opacity="0.45"/>
<rect x="631.2" y="234.4" width="4.1" height="3.9" fill="#5e1e14" opacity="0.45"/>
<path fill="#1e9bd7" d="M373.4,145 L391,174 L383,177 L383,301 L361.5,322 L361.5,205 L353,213.5 Z"/>
<rect x="361.5" y="347" width="21" height="71" fill="url(#gTrans)"/>
<path d="M361.5,419 L382.5,412 L382.5,424 L361.5,433 Z" fill="#e8eef3" opacity="0.8"/>
<path d="M361.5,438 L382.5,433 L382.5,455 L361.5,468 Z" fill="#a24a3c"/>
<path d="M361.5,490 L376,490 L361.5,505 Z" fill="#b9423a"/>
<path d="M361.5,533 L371,540 L361.5,548 Z" fill="#c83830"/>
<path fill="#d3302a" d="M361.8,578.6 L382.3,583 L382.3,600.6 L361.8,622.5 Z"/>
<path fill="url(#pRainL)" d="M525.5,123 L548,106 L548,243 L525.5,260 Z"/>
<path fill="url(#pRainR)" d="M581,259 L581,112 L572,112 L592,48 L612,73 L604.3,80 L604.3,238 Z"/>
<ellipse cx="512" cy="206.3" rx="10.5" ry="6.7" fill="#0f5f95" opacity="0.6"/><ellipse cx="512" cy="205.5" rx="10.5" ry="6.7" fill="url(#gDrop)"/><path d="M505.7,206.5 Q510.9,202.5 517.8,203.8" stroke="#f2fcff" stroke-width="2.0" fill="none" stroke-linecap="round"/>
<ellipse cx="564.5" cy="189.8" rx="12" ry="7.2" fill="#0f5f95" opacity="0.6"/><ellipse cx="564.5" cy="189" rx="12" ry="7.2" fill="url(#gDrop)"/><path d="M557.3,190.1 Q563.3,185.8 571.1,187.2" stroke="#f2fcff" stroke-width="2.2" fill="none" stroke-linecap="round"/>
<ellipse cx="623.8" cy="195.8" rx="13.7" ry="8.2" fill="#0f5f95" opacity="0.6"/><ellipse cx="623.8" cy="195" rx="13.7" ry="8.2" fill="url(#gDrop)"/><path d="M615.6,196.2 Q622.4,191.3 631.3,192.9" stroke="#f2fcff" stroke-width="2.5" fill="none" stroke-linecap="round"/>
<ellipse cx="500" cy="233.8" rx="17.6" ry="10.5" fill="#0f5f95" opacity="0.6"/><ellipse cx="500" cy="233" rx="17.6" ry="10.5" fill="url(#gDrop)"/><path d="M489.4,234.6 Q498.2,228.3 509.7,230.4" stroke="#f2fcff" stroke-width="3.1" fill="none" stroke-linecap="round"/>
<ellipse cx="623.8" cy="225.10000000000002" rx="13" ry="7.6" fill="#0f5f95" opacity="0.6"/><ellipse cx="623.8" cy="224.3" rx="13" ry="7.6" fill="url(#gDrop)"/><path d="M616.0,225.4 Q622.5,220.9 630.9,222.4" stroke="#f2fcff" stroke-width="2.3" fill="none" stroke-linecap="round"/>
<ellipse cx="512" cy="265.8" rx="12.5" ry="8.6" fill="#0f5f95" opacity="0.6"/><ellipse cx="512" cy="265" rx="12.5" ry="8.6" fill="url(#gDrop)"/><path d="M504.5,266.3 Q510.8,261.1 518.9,262.9" stroke="#f2fcff" stroke-width="2.6" fill="none" stroke-linecap="round"/>
<ellipse cx="559.5" cy="263.8" rx="10.5" ry="7" fill="#0f5f95" opacity="0.6"/><ellipse cx="559.5" cy="263" rx="10.5" ry="7" fill="url(#gDrop)"/><path d="M553.2,264.1 Q558.5,259.9 565.3,261.2" stroke="#f2fcff" stroke-width="2.1" fill="none" stroke-linecap="round"/>
<line x1="712" y1="167.6" x2="771" y2="167.6" stroke="#111" stroke-width="1.7"/>
<path d="M781,167.6 L765,163.4 L768,167.6 L765,171.79999999999998 Z" fill="#111"/>
<line x1="715" y1="275.4" x2="777" y2="275.4" stroke="#111" stroke-width="1.7"/>
<path d="M787,275.4 L771,271.2 L774,275.4 L771,279.59999999999997 Z" fill="#111"/>
<line x1="711" y1="379" x2="775" y2="379" stroke="#111" stroke-width="1.7"/>
<path d="M785,379 L769,374.8 L772,379 L769,383.2 Z" fill="#111"/>
<line x1="709.5" y1="470.3" x2="772" y2="470.3" stroke="#111" stroke-width="1.7"/>
<path d="M782,470.3 L766,466.1 L769,470.3 L766,474.5 Z" fill="#111"/>
<line x1="702" y1="550.3" x2="763" y2="550.3" stroke="#111" stroke-width="1.7"/>
<path d="M773,550.3 L757,546.0999999999999 L760,550.3 L757,554.5 Z" fill="#111"/>
<rect x="117" y="154.5" width="196" height="70" rx="15" fill="#a8a8a8" opacity="0.55" filter="url(#fBlur2)"/>
<rect x="114" y="150.5" width="196.5" height="69.5" rx="15" fill="#fff" stroke="#1a1a1a" stroke-width="2"/>
<rect x="102.5" y="559.5" width="198" height="71" rx="16" fill="#a8a8a8" opacity="0.55" filter="url(#fBlur2)"/>
<rect x="99.5" y="555.5" width="198.5" height="70.5" rx="16" fill="#fff" stroke="#1a1a1a" stroke-width="2"/>
<text x="137.5" y="199.2" font-size="41.6" textLength="149.8" lengthAdjust="spacingAndGlyphs">Exterior</text>
<text x="128.9" y="604.3" font-size="41.7" textLength="136.7" lengthAdjust="spacingAndGlyphs">Interior</text>
<text x="304.8" y="125.3" font-size="28" textLength="158.7" lengthAdjust="spacingAndGlyphs">transpiration</text>
<text x="301.3" y="655.7" font-size="28" textLength="158.9" lengthAdjust="spacingAndGlyphs">transpiration</text>
<text x="567.5" y="39.7" font-size="28" textLength="48.1" lengthAdjust="spacingAndGlyphs">rain</text>
<text x="797.1" y="147.6" font-size="24.5" textLength="95.8" lengthAdjust="spacingAndGlyphs">abrasion</text>
<text x="796.8" y="176" font-size="24.5" textLength="94.3" lengthAdjust="spacingAndGlyphs">resistant</text>
<text x="797.0" y="204.9" font-size="24.5" textLength="115.9" lengthAdjust="spacingAndGlyphs">outer shell</text>
<text x="796.8" y="281.2" font-size="24.5" textLength="110.6" lengthAdjust="spacingAndGlyphs">protection</text>
<text x="798.6" y="375.3" font-size="24.5" textLength="101.7" lengthAdjust="spacingAndGlyphs">Gore-Tex</text>
<text x="798.5" y="403.3" font-size="24.5" textLength="117.9" lengthAdjust="spacingAndGlyphs">membrane</text>
<text x="794.7" y="476.2" font-size="24.5" textLength="111.3" lengthAdjust="spacingAndGlyphs">protection</text>
<text x="790.3" y="531.8" font-size="24.5" textLength="39.9" lengthAdjust="spacingAndGlyphs">soft</text>
<text x="789.3" y="561.5" font-size="24.5" textLength="56.1" lengthAdjust="spacingAndGlyphs">inner</text>
<text x="789.3" y="590" font-size="24.5" textLength="48.2" lengthAdjust="spacingAndGlyphs">liner</text>
</svg>
</body></html>
